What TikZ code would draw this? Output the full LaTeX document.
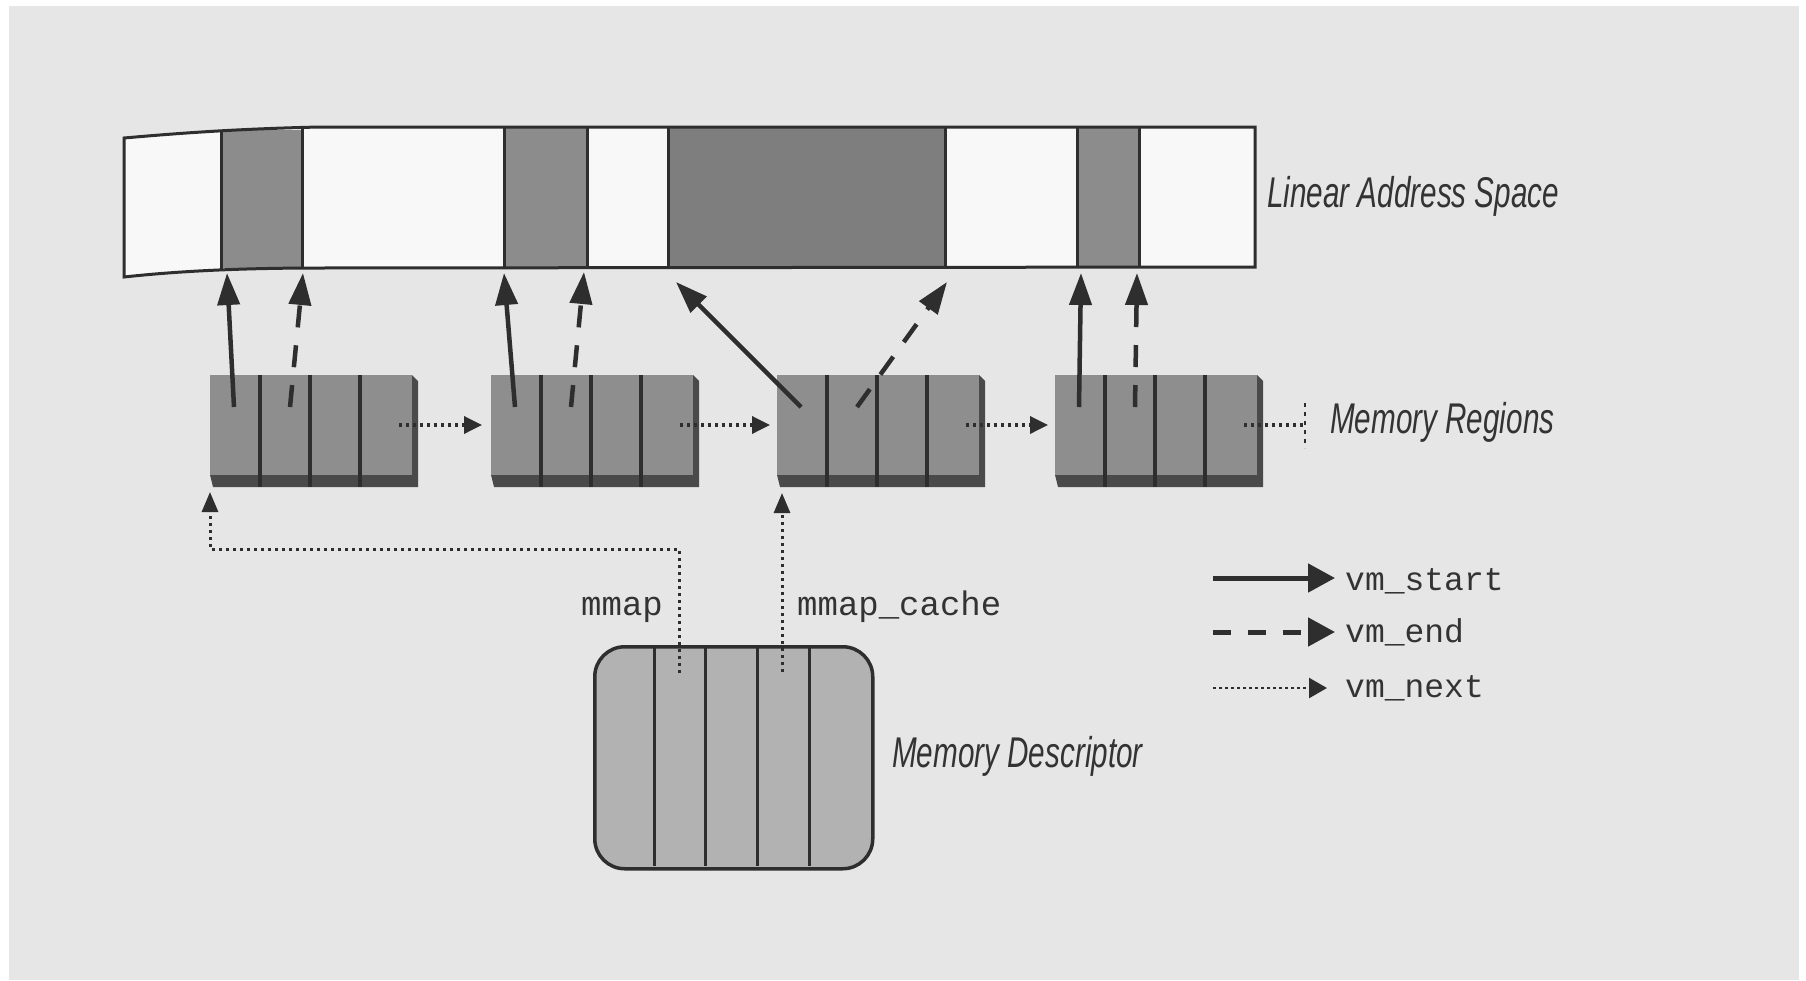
\documentclass[tikz,border=0pt]{standalone}
\usepackage{fontspec}
\setmainfont{Liberation Sans}
\newfontfamily\codefont{Liberation Mono}
\usetikzlibrary{arrows.meta}
\definecolor{bg}{HTML}{E6E6E6}
\definecolor{barwhite}{HTML}{F8F8F8}
\definecolor{bargray}{HTML}{8C8C8C}
\definecolor{bardark}{HTML}{7E7E7E}
\definecolor{regc}{HTML}{8E8E8E}
\definecolor{regshadow}{HTML}{4A4A4A}
\definecolor{linec}{HTML}{2E2E2E}
\definecolor{descc}{HTML}{B2B2B2}
\definecolor{textc}{HTML}{333333}
\tikzset{
  barline/.style={line width=3pt, draw=linec},
  regface/.style={fill=regc, draw=none, minimum width=202pt, minimum height=100pt, anchor=north west, inner sep=0pt},
  divider/.style={line width=4pt, draw=linec},
  vmstartarr/.style={line width=4.5pt, draw=linec, -{Triangle[length=32pt,width=22pt]}},
  vmendarr/.style={vmstartarr, dash pattern=on 22pt off 18pt},
  vmnextarr/.style={line width=3.5pt, draw=linec, dash pattern=on 3pt off 4pt, -{Triangle[length=18pt,width=17pt]}},
  ptrarr/.style={line width=3pt, draw=linec, dash pattern=on 3pt off 4pt, -{Triangle[length=20pt,width=16pt]}},
  italabel/.style={anchor=base west, inner sep=0pt, text=textc},
  codelabel/.style={anchor=base west, inner sep=0pt, text=textc, font=\codefont\fontsize{34}{40}\selectfont},
}
\newcommand{\cond}[1]{\scalebox{0.69}[1]{\itshape\fontsize{43}{50}\selectfont #1}}
\begin{document}
\begin{tikzpicture}[x=1pt,y=-1pt]
\useasboundingbox (0,0) rectangle (1806,980);
\fill[white] (0,0) rectangle (1806,980);
\fill[bg] (9,6) rectangle (1799,980);

% ---------- Linear address space bar ----------
\fill[barwhite] (124,138) .. controls (170,134) and (230,129) .. (320,127) -- (1255,127) -- (1255,267)
   -- (320,268) .. controls (230,268) and (170,272) .. (124,277) -- cycle;
\fill[bargray] (221,130) rectangle (302,268);
\fill[bargray] (504,127) rectangle (587,267);
\fill[bardark] (668,127) rectangle (945,267);
\fill[bargray] (1077,127) rectangle (1139,267);
\draw[barline] (124,138) .. controls (170,134) and (230,129) .. (320,127) -- (1255,127) -- (1255,267)
   -- (320,268) .. controls (230,268) and (170,272) .. (124,277) -- cycle;
\foreach \x/\t/\b in {221/130/269,302/128/268,504/127/268,587/127/268,668/127/268,945/127/268,1077/127/268,1139/127/268}
  \draw[barline] (\x,\t) -- (\x,\b);
\node[italabel] (las) at (1267,207) {\cond{Linear Address Space}};

% ---------- Memory regions ----------
\foreach \L/\n in {210/A,491/B,777/C,1055/D}{
  \fill[regshadow] (\L,475) -- (\L+202,475) -- (\L+202,375) -- (\L+208,381) -- (\L+208,487) -- (\L+3,487) -- cycle;
  \node[regface] (reg\n) at (\L,375) {};
  \foreach \d in {50,100,150}
    \draw[divider] (\L+\d,375) -- (\L+\d,487);
  \coordinate (s\n) at (\L+24,407);
  \coordinate (e\n) at (\L+80,407);
  \coordinate (nx\n) at (\L+189,425);
}
\node[italabel] (mrl) at (1330,433) {\cond{Memory Regions}};

% ---------- Memory descriptor ----------
\node[draw=linec, line width=3.5pt, fill=descc, rounded corners=30pt,
      minimum width=278pt, minimum height=222pt, anchor=north west, inner sep=0pt] (md) at (593,645) {};
\foreach \x in {654,705,757,809}
  \draw[line width=3pt, draw=linec] (\x,646) -- (\x,866);
\node[italabel] (mdl) at (892,767) {\cond{Memory Descriptor}};

% ---------- vm_start / vm_end arrows ----------
\coordinate (tsA) at (227,273);  \coordinate (teA) at (303,273);
\coordinate (tsB) at (504,273);  \coordinate (teB) at (584,272);
\coordinate (tsC) at (676,282);  \coordinate (teC) at (947,282);
\coordinate (tsD) at (1081,273); \coordinate (teD) at (1137,273);
\foreach \n in {A,B,C,D}{
  \draw[vmstartarr] (s\n) -- (ts\n);
  \draw[vmendarr] (e\n) -- (te\n);
}

% ---------- vm_next arrows ----------
\coordinate (inB) at (482,425);
\coordinate (inC) at (770,425);
\coordinate (inD) at (1048,425);
\coordinate (nullp) at (1305,425);
\coordinate (nullt) at (1305,403);
\coordinate (nullb) at (1305,448);
\draw[vmnextarr] (nxA) -- (inB);
\draw[vmnextarr] (nxB) -- (inC);
\draw[vmnextarr] (nxC) -- (inD);
\draw[line width=3.5pt, draw=linec, dash pattern=on 3pt off 4pt] (nxD) -- (nullp);
\draw[line width=2pt, draw=linec, dash pattern=on 4pt off 5pt] (nullt) -- (nullb);

% ---------- mmap / mmap_cache ----------
\coordinate (mmapsrc) at (679,673);
\coordinate (cachesrc) at (782,672);
\coordinate (tA) at (210,492);
\coordinate (tC) at (782,493);
\draw[ptrarr] (mmapsrc) -- (679,549) -| (tA);
\draw[ptrarr] (cachesrc) -- (tC);
\node[codelabel] (mmapl) at (581,615) {mmap};
\node[codelabel] (cachel) at (797,615) {mmap\_cache};

% ---------- legend ----------
\coordinate (l1a) at (1213,578); \coordinate (l1b) at (1335,578);
\coordinate (l2a) at (1213,632); \coordinate (l2b) at (1335,632);
\coordinate (l3a) at (1213,688); \coordinate (l3b) at (1327,688);
\draw[line width=5pt, draw=linec, -{Triangle[length=27pt,width=28pt]}] (l1a) -- (l1b);
\draw[line width=5pt, draw=linec, dash pattern=on 18pt off 17pt, -{Triangle[length=27pt,width=28pt]}] (l2a) -- (l2b);
\draw[line width=2.5pt, draw=linec, dash pattern=on 2.5pt off 3.5pt, -{Triangle[length=18pt,width=20pt]}] (l3a) -- (l3b);
\node[codelabel, font=\codefont\fontsize{33}{40}\selectfont] (lg1) at (1345,590) {vm\_start};
\node[codelabel, font=\codefont\fontsize{33}{40}\selectfont] (lg2) at (1345,642) {vm\_end};
\node[codelabel, font=\codefont\fontsize{33}{40}\selectfont] (lg3) at (1345,697) {vm\_next};
\end{tikzpicture}
\end{document}
